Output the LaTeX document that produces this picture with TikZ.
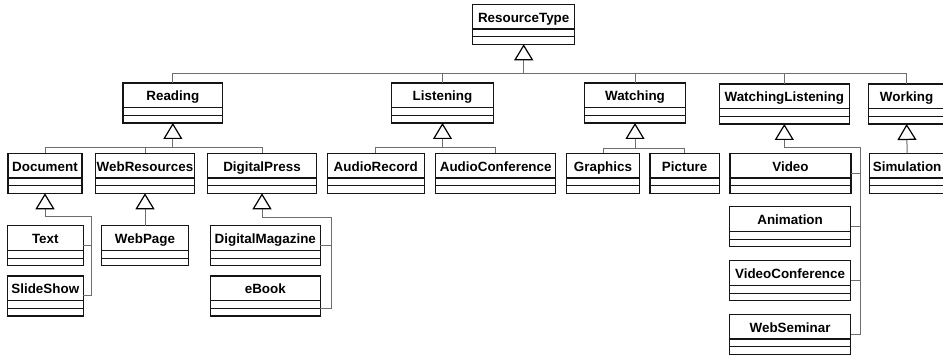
\documentclass[tikz,border=0pt]{standalone}
\usepackage{fontspec}
\setmainfont{Liberation Sans}
\usetikzlibrary{arrows.meta,calc}
\definecolor{boxc}{HTML}{151515}
\definecolor{connc}{HTML}{6E6E6E}
\tikzset{
  clsbox/.style={draw=boxc, line width=1.3pt, inner sep=0pt, outer sep=0pt, anchor=north west, minimum height=40pt},
  clsname/.style={font=\fontsize{13.4}{16}\selectfont\bfseries, text=black, inner sep=0pt, anchor=base},
  compline/.style={draw=boxc, line width=1.3pt},
  conn/.style={draw=connc, line width=1pt},
  gen/.style={conn, -{Triangle[length=16pt, width=19pt, color=black, fill=white, line width=1.2pt]}}
}
\newcommand\umlcls[5]{% id, text, x1, x2, ytop
  \node[clsbox, minimum width={#4pt-#3pt}] (#1) at (#3,#5) {};
  \node[clsname] (#1-t) at ([yshift=-17.8pt]#1.north) {#2};
  \draw[compline] ([yshift=-24.7pt]#1.north west) -- ([yshift=-24.7pt]#1.north east);
  \draw[compline] ([yshift=-32.5pt]#1.north west) -- ([yshift=-32.5pt]#1.north east);
}
\begin{document}
\begin{tikzpicture}[x=1pt,y=-1pt]
\useasboundingbox (0,0) rectangle (943,355);
\clip (0,0) rectangle (943,355);
\fill[white] (0,0) rectangle (943,355);
% level 0
\umlcls{RT}{ResourceType}{472.7}{574.7}{4.3}
% level 1
\umlcls{Reading}{Reading}{123}{222.7}{83}
\umlcls{Listening}{Listening}{391.7}{493.3}{83}
\umlcls{Watching}{Watching}{584.3}{685.7}{83}
\umlcls{WL}{WatchingListening}{719.3}{849.3}{84}
\umlcls{Working}{Working}{868.3}{945}{84}
% level 2
\umlcls{Document}{Document}{8}{82}{153.3}
\umlcls{WebRes}{WebResources}{95.5}{194.5}{153.3}
\umlcls{DigPress}{DigitalPress}{207.3}{316.7}{153.3}
\umlcls{AudioRec}{AudioRecord}{327.3}{424.3}{153.3}
\umlcls{AudioConf}{AudioConference}{435.7}{555.7}{153.3}
\umlcls{Graphics}{Graphics}{566.7}{639.3}{153.3}
\umlcls{Picture}{Picture}{650}{719.3}{153.3}
\umlcls{Video}{Video}{730}{851}{153.3}
\umlcls{Simulation}{Simulation}{869.3}{945}{153.3}
% level 3
\umlcls{Text}{Text}{7.3}{83.3}{225.7}
\umlcls{SlideShow}{SlideShow}{7.3}{83.3}{276}
\umlcls{WebPage}{WebPage}{101.7}{188.3}{225.7}
\umlcls{DigMag}{DigitalMagazine}{210.3}{320.3}{225.7}
\umlcls{eBook}{eBook}{210.3}{320.3}{276}
\umlcls{Animation}{Animation}{729.5}{850.7}{206.7}
\umlcls{VideoConf}{VideoConference}{729.5}{850.7}{260.7}
\umlcls{WebSeminar}{WebSeminar}{729.5}{850.7}{314.3}
% bus coordinates
\coordinate (bus0) at (0,73.3);
\coordinate (bus1) at (0,147.7);
\coordinate (bus1w) at (0,148.3);
\coordinate (docR) at (91.7,216.7);
\coordinate (dpR) at (331,217.7);
\coordinate (wlR) at (860.7,147.7);
\coordinate (ebk) at ([yshift=7.7pt]eBook.south east);
% top level
\draw[conn] (Reading.north) -- (Reading.north |- bus0) -- (Working.north |- bus0) -- (Working.north);
\draw[conn] (Listening.north) -- (Listening.north |- bus0);
\draw[conn] (Watching.north) -- (Watching.north |- bus0);
\draw[conn] (WL.north) -- (WL.north |- bus0);
\draw[gen] (RT.south |- bus0) -- (RT.south);
% Reading
\draw[conn] (Document.north) -- (Document.north |- bus1) -- (DigPress.north |- bus1) -- (DigPress.north);
\draw[conn] (WebRes.north) -- (WebRes.north |- bus1);
\draw[gen] (Reading.south |- bus1) -- (Reading.south);
% Listening
\draw[conn] (AudioRec.north) -- (AudioRec.north |- bus1) -- (AudioConf.north |- bus1) -- (AudioConf.north);
\draw[gen] (Listening.south |- bus1) -- (Listening.south);
% Watching
\draw[conn] (Graphics.north) -- (Graphics.north |- bus1w) -- (Picture.north |- bus1w) -- (Picture.north);
\draw[gen] (Watching.south |- bus1w) -- (Watching.south);
% WatchingListening
\draw[gen] (WebSeminar.east) -| (wlR) -| (WL.south);
\draw[conn] (Video.east) -- (Video.east -| wlR);
\draw[conn] (Animation.east) -- (Animation.east -| wlR);
\draw[conn] (VideoConf.east) -- (VideoConf.east -| wlR);
% Working
\draw[gen] (Simulation.north) -- (Working.south);
% Document
\draw[gen] (SlideShow.east) -| (docR) -| (Document.south);
\draw[conn] (Text.east) -- (Text.east -| docR);
% WebResources
\draw[gen] (WebPage.north) -- (WebRes.south);
% DigitalPress
\draw[gen] (ebk) -| (dpR) -| (DigPress.south);
\draw[conn] (DigMag.east) -- (DigMag.east -| dpR);
\end{tikzpicture}
\end{document}
